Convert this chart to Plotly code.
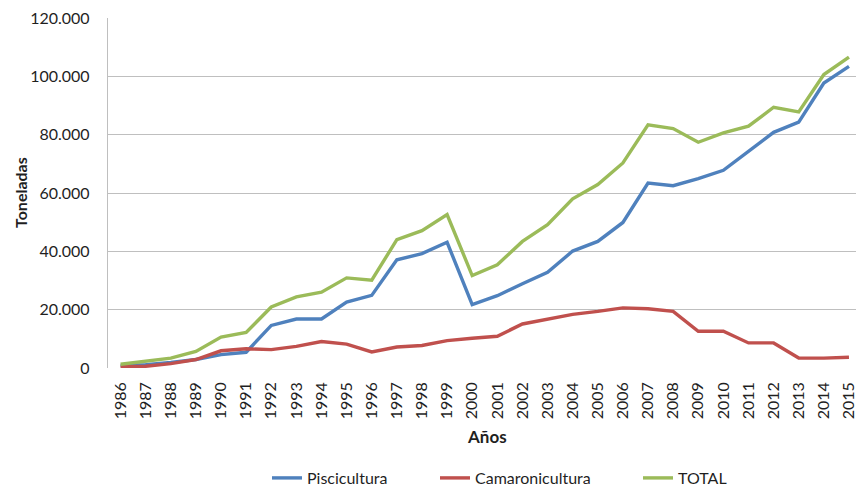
import plotly.graph_objects as go

years = list(range(1986, 2016))
piscicultura = [800, 1100, 1900, 2900, 4600, 5400, 14600, 16800, 16800, 22600, 24900, 37100, 39200, 43100,
                21700, 24800, 28900, 32800, 40100, 43400, 49900, 63400, 62500, 64900, 67800, 74300, 80800, 84300,
                97700, 103400]
camaronicultura = [400, 600, 1500, 2900, 5900, 6600, 6300, 7400, 9100, 8200, 5500, 7200, 7700, 9400,
                   10200, 10900, 15100, 16800, 18400, 19400, 20600, 20300, 19400, 12600, 12600, 8600, 8600, 3400,
                   3400, 3700]
total = [1300, 2300, 3400, 5700, 10600, 12200, 20900, 24400, 26000, 30900, 30100, 44000, 47100, 52600,
         31700, 35400, 43400, 49100, 58000, 62900, 70300, 83400, 82100, 77400, 80600, 82900, 89400, 87800,
         100600, 106600]
y_ticks = [0, 20000, 40000, 60000, 80000, 100000, 120000]

FONT = "Lato, 'Open Sans', sans-serif"
TXT = "#1f1f1f"
W, H = 856, 488
L, R, T, B = 108, 0, 18, 120
pw, ph = W - L - R, H - T - B

def px_x(p):
    return (p - L) / pw

def px_y(p):
    return (H - B - p) / ph

fig = go.Figure()
series = [("Piscicultura", piscicultura, "#4F81BD", "legend"),
          ("Camaronicultura", camaronicultura, "#C0504D", "legend2"),
          ("TOTAL", total, "#9BBB59", "legend3")]
for name, vals, col, lg in series:
    fig.add_trace(go.Scatter(x=years, y=vals, mode="lines", name=name,
                             line=dict(color=col, width=3.4), legend=lg))

leg_common = dict(orientation="h", yanchor="middle", xanchor="left",
                  font=dict(family=FONT, size=16, color=TXT), bgcolor="rgba(0,0,0,0)")
fig.update_layout(
    width=W, height=H,
    margin=dict(l=L, r=R, t=T, b=B, autoexpand=False),
    paper_bgcolor="white", plot_bgcolor="white",
    separators=",.",
    showlegend=True,
    legend=dict(x=px_x(267), y=px_y(478), **leg_common),
    legend2=dict(x=px_x(435), y=px_y(478), **leg_common),
    legend3=dict(x=px_x(638), y=px_y(478), **leg_common),
    xaxis=dict(range=[1985.5, 2015.28], tickmode="array", tickvals=years,
               ticktext=[str(y) for y in years], tickangle=-90,
               tickfont=dict(family=FONT, size=16, color=TXT),
               showgrid=False, zeroline=False, showline=False, ticks="",
               ticklabelstandoff=10, ticklabeloverflow="allow", automargin=False),
    yaxis=dict(range=[0, 120000], tickmode="array", tickvals=y_ticks, tickformat=",d",
               tickfont=dict(family=FONT, size=16, color=TXT),
               showgrid=True, gridcolor="#BFBFBF", gridwidth=1.3,
               zeroline=False, showline=True, linecolor="#BFBFBF", linewidth=1.3,
               ticks="", ticklabelstandoff=14, automargin=False),
    annotations=[
        dict(text="<b>Toneladas</b>", xref="paper", yref="paper", x=px_x(20), y=0.5,
             textangle=-90, showarrow=False, xanchor="center", yanchor="middle",
             font=dict(family=FONT, size=16, color=TXT)),
        dict(text="<b>Años</b>", xref="paper", yref="paper", x=px_x(487), y=px_y(436),
             showarrow=False, xanchor="center", yanchor="middle",
             font=dict(family=FONT, size=17, color=TXT)),
    ],
)

fig.write_html("out.html", config={"displayModeBar": False},
               post_script="document.body.style.margin='0';document.body.style.overflow='hidden';")
